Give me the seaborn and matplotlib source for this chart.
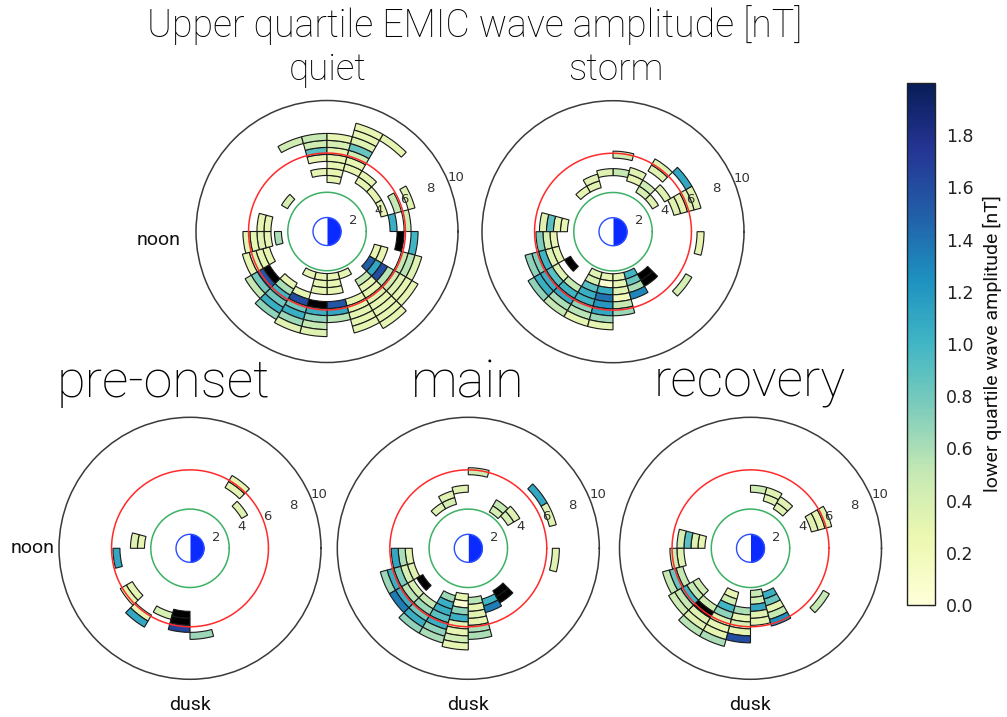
import numpy as np
import matplotlib
matplotlib.use("Agg")
import matplotlib.pyplot as plt
import seaborn as sns
from matplotlib.colors import Normalize
from matplotlib.cm import ScalarMappable

sns.set_theme(style="white")
plt.rcParams['font.family'] = ['DejaVu Sans']

# ---------------- data ----------------
# each run: (MLT bin start [h], first L-shell bin start, amplitudes going outward [nT])
# bins are 1 h in MLT and 0.5 in L; values > 2 nT are shown in black
quiet_runs = [
    (7, 6.5, [0.45]),
    (6, 4.0, [0.3]),
    (6, 5.0, [0.3, 0.9, 0.45, 0.5]),
    (5, 3.5, [0.3, 0.3, 0.3, 0.3, 0.3, 0.42, 0.3]),
    (4, 4.5, [0.3, 0.3, 0.45, 0.85, 0.35, 0.3, 0.3]),
    (3, 4.0, [0.3, 0.3]),
    (3, 7.5, [0.3]),
    (2, 4.0, [0.3]),
    (1, 4.0, [0.3]),
    (1, 5.0, [0.5]),
    (1, 6.0, [0.35]),
    (0, 4.5, [1.05]),
    (0, 5.5, [0.45]),
    (23, 5.0, [2.5]),
    (23, 6.0, [1.0]),
    (22, 3.5, [0.3, 0.3]),
    (22, 5.5, [0.5, 0.55, 0.35]),
    (21, 3.5, [1.5, 1.1, 1.6, 0.55, 0.45, 0.35, 0.3, 0.3]),
    (20, 4.0, [0.5, 0.3, 0.3, 0.35, 0.3, 0.3, 0.3, 0.3]),
    (19, 3.0, [0.3]),
    (19, 5.0, [0.3, 0.3, 0.3, 0.3, 0.3]),
    (18, 3.0, [0.3, 0.3, 0.3]),
    (18, 5.0, [1.55, 1.1, 0.55]),
    (17, 3.0, [0.3, 0.3, 0.3]),
    (17, 5.0, [2.5, 1.05, 0.7, 0.5, 0.35]),
    (16, 3.0, [0.3]),
    (16, 4.5, [0.3, 1.6, 0.8, 1.05, 0.65, 0.35]),
    (15, 4.25, [0.3, 0.6, 1.0, 0.8, 1.05, 0.7]),
    (14, 4.75, [2.5, 1.55, 0.8, 0.5]),
    (13, 4.25, [0.3, 0.3, 0.35, 0.3]),
    (12, 3.25, [0.6]),
    (12, 4.0, [0.3, 0.35, 0.3, 0.3]),
    (11, 4.0, [0.3, 0.3]),
    (9, 3.25, [0.4]),
]

storm_runs = [
    (11, 3.25, [0.3, 0.3, 0.9, 0.35]),
    (12, 4.0, [0.3, 0.4, 0.75]),
    (13, 4.0, [0.3, 0.35, 1.0, 0.75, 0.7]),
    (14, 3.5, [2.5]),
    (14, 4.5, [0.35, 0.9, 1.05, 1.05, 0.7]),
    (15, 4.5, [0.5, 1.0, 1.1, 0.6, 0.5]),
    (16, 3.0, [0.35, 0.4, 0.9, 1.05, 1.0, 0.7, 0.55, 0.3]),
    (17, 3.0, [0.3, 0.05, 1.05, 1.4, 1.2, 1.1, 0.65, 0.3]),
    (18, 3.0, [0.3, 0.3, 0.35, 0.2, 0.5, 0.65]),
    (19, 3.0, [1.0, 0.85, 0.6, 1.3]),
    (20, 3.5, [2.5, 2.5]),
    (21, 6.0, [0.4]),
    (23, 6.0, [0.3]),
    (1, 4.5, [0.35, 0.3, 0.35]),
    (1, 6.0, [0.35]),
    (2, 3.25, [0.35]),
    (2, 4.25, [0.35]),
    (2, 6.0, [1.1]),
    (3, 3.25, [0.4, 0.45]),
    (3, 5.0, [0.35, 0.35]),
    (4, 3.75, [0.3, 0.35]),
    (5, 4.0, [0.5]),
    (5, 5.25, [0.45]),
    (6, 4.0, [0.35]),
    (7, 3.25, [0.35, 0.35]),
    (8, 3.25, [0.3]),
]

preonset_runs = [
    (3, 5.0, [0.3, 0.3]),
    (2, 4.25, [0.35]),
    (11, 3.25, [0.3, 0.35]),
    (12, 5.0, [1.1]),
    (14, 4.75, [0.3, 0.3]),
    (15, 5.5, [0.3, 1.1]),
    (16, 4.75, [0.4]),
    (17, 4.5, [2.5, 2.5, 1.65]),
    (18, 6.0, [0.65]),
]

main_runs = [
    (5, 5.25, [0.45]),
    (6, 4.0, [0.35]),
    (7, 3.25, [0.4, 0.35]),
    (8, 3.25, [0.35]),
    (3, 3.0, [0.4, 0.5]),
    (2, 3.25, [0.4, 0.35]),
    (2, 6.0, [1.1]),
    (1, 6.0, [0.35]),
    (23, 6.0, [0.35]),
    (12, 4.0, [0.35, 0.6, 1.1]),
    (13, 4.0, [0.35, 0.4, 0.75, 1.05, 0.65]),
    (14, 3.75, [2.5]),
    (14, 4.5, [0.4, 0.55, 1.05, 1.35]),
    (15, 4.5, [0.5, 0.65, 0.8, 1.05, 0.7]),
    (16, 3.5, [0.65, 1.05, 1.05, 0.9, 1.05, 0.7, 0.6]),
    (17, 3.25, [0.3, 0.05, 0.7, 1.05, 0.35, 0.3, 0.45, 0.3]),
    (18, 3.5, [0.55, 0.3, 0.35, 0.3, 0.6, 0.6]),
    (19, 3.75, [1.0, 1.35]),
    (20, 3.5, [2.5, 2.5]),
]

recovery_runs = [
    (5, 4.0, [0.45]),
    (4, 3.5, [0.35, 0.35]),
    (3, 3.25, [0.35, 0.35]),
    (1, 4.5, [0.35, 0.3, 0.35]),
    (21, 6.0, [0.5]),
    (11, 3.25, [0.3, 0.35, 0.9, 0.4]),
    (12, 4.75, [0.35, 0.45]),
    (13, 5.0, [0.5, 0.85, 0.5]),
    (14, 4.25, [0.45, 0.5, 1.0, 0.5, 0.45]),
    (15, 4.75, [0.45, 2.5, 0.35, 0.35, 0.55]),
    (16, 3.25, [0.3, 0.45, 1.0, 0.7, 0.35, 0.3, 0.3, 0.6]),
    (17, 4.25, [0.6, 0.3, 0.4, 0.3, 1.6]),
    (18, 3.0, [0.5, 0.45, 1.1, 0.35, 0.3]),
    (19, 3.25, [1.05, 0.85, 0.3, 0.5, 1.25]),
]

panel_names = ["quiet", "storm", "pre-onset", "main", "recovery"]
panel_runs = [quiet_runs, storm_runs, preonset_runs, main_runs, recovery_runs]
r_ticks = [2, 4, 6, 8, 10]
cbar_ticks = [0.0, 0.2, 0.4, 0.6, 0.8, 1.0, 1.2, 1.4, 1.6, 1.8]
L_BIN = 0.5
MLT_BIN = 1.0
INNER_RING = 2.8
OUTER_RING = 5.6
R_MAX = 9.35

# ---------------- style / layout ----------------
W, H = 1007, 717
fig = plt.figure(figsize=(W / 100, H / 100), dpi=100)
fig.patch.set_facecolor("white")

cmap = sns.color_palette("YlGnBu", as_cmap=True).copy()
cmap.set_over("black")
norm = Normalize(vmin=0.0, vmax=2.0)

RPX = 131
centers = [(327, 231.5), (613, 231.7), (190, 548.3), (468.3, 548.3), (750.5, 548.3)]
title_pos = [(328, 70, 26.5), (616, 70, 26.5), (163, 383, 37.5), (468, 383, 37.5),
             (750, 383, 37.5)]

big_font = dict(family=["Roboto", "Lato", "DejaVu Sans"], weight="light", color="#000000")
small_font = dict(family=["Roboto", "Lato", "DejaVu Sans"], weight="normal", color="#111111")

full = np.linspace(0, 2 * np.pi, 400)

for name, runs, (cx, cy), (tx, ty, tfs) in zip(panel_names, panel_runs, centers, title_pos):
    ax = fig.add_axes([(cx - RPX) / W, (H - cy - RPX) / H, 2 * RPX / W, 2 * RPX / H],
                      projection="polar")
    ax.set_facecolor("white")
    ax.set_ylim(0, R_MAX)
    ax.set_xticks([])
    ax.set_yticks([])
    ax.grid(False)
    ax.spines["polar"].set_color("#3a3a3a")
    ax.spines["polar"].set_linewidth(1.1)

    for mlt, l0, vals in runs:
        theta = np.deg2rad((mlt + MLT_BIN / 2) * 15.0)
        width = np.deg2rad(MLT_BIN * 15.0)
        bottoms = l0 + L_BIN * np.arange(len(vals))
        colors = cmap(norm(np.array(vals)))
        ax.bar(np.full(len(vals), theta), L_BIN, width=width, bottom=bottoms,
               color=colors, edgecolor="#1a1a1a", linewidth=0.8, zorder=2)

    ax.plot(full, np.full_like(full, INNER_RING), color="#3cb064", lw=1.1, zorder=3)
    ax.plot(full, np.full_like(full, OUTER_RING), color="#ff2a2a", lw=1.1, zorder=3)

    half = np.linspace(-np.pi / 2, np.pi / 2, 100)
    ax.fill_between(half, 0, 1.0, color="#0a2aff", lw=0, zorder=4)
    ax.plot(full, np.full_like(full, 1.0), color="#2a4cff", lw=1.0, zorder=5)

    for rt in r_ticks:
        ax.text(np.deg2rad(22.5), rt, str(rt), ha="center", va="center",
                fontsize=9.5, color="#333333", clip_on=False, zorder=6)

    fig.text(tx / W, 1 - ty / H, name, ha="center", va="center", fontsize=tfs, **big_font)

fig.text(475 / W, 1 - 25 / H, "Upper quartile EMIC wave amplitude [nT]", ha="center",
         va="center", fontsize=27, **big_font)

for x, y in [(159, 240), (33, 548)]:
    fig.text(x / W, 1 - y / H, "noon", ha="center", va="center", fontsize=14, **small_font)
for x in [190, 468, 750]:
    fig.text(x / W, 1 - 705 / H, "dusk", ha="center", va="center", fontsize=14, **small_font)

cax = fig.add_axes([907 / W, (H - 605) / H, 28 / W, 522 / H])
sm = ScalarMappable(norm=norm, cmap=cmap)
cb = fig.colorbar(sm, cax=cax, ticks=cbar_ticks)
cb.ax.set_yticklabels([f"{t:.1f}" for t in cbar_ticks])
cb.ax.tick_params(direction="in", length=5, width=0.8, labelsize=12.5, colors="#222222",
                  pad=8)
cb.outline.set_edgecolor("#222222")
cb.outline.set_linewidth(1.0)
fig.text(992 / W, 1 - 344 / H, "lower quartile wave amplitude [nT]", rotation=90,
         ha="center", va="center", fontsize=14, **small_font)

fig.savefig("out.png", dpi=100, facecolor="white")
